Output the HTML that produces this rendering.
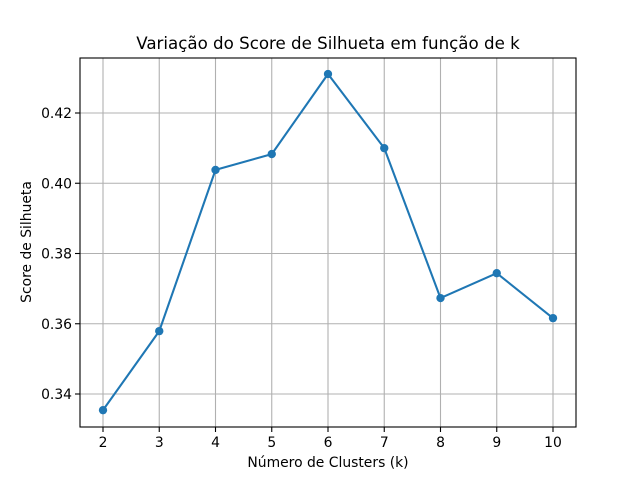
<!DOCTYPE html>
<html><head><meta charset="utf-8"><style>
body{margin:0;background:#fff}
svg{display:block;font-family:"DejaVu Sans","Liberation Sans",sans-serif}
</style></head><body>
<svg id="chart" width="640" height="480" xmlns="http://www.w3.org/2000/svg">
<rect width="640" height="480" fill="#fff"/>
<g id="grid"></g>
<g id="ticks"></g>
<g id="series"></g>
<rect x="80" y="58" width="496" height="369" fill="none" stroke="#000" stroke-width="1.1"/>
<text x="328" y="49" text-anchor="middle" font-size="16.67">Variação do Score de Silhueta em função de k</text>
<text x="328" y="467" text-anchor="middle" font-size="13.9">Número de Clusters (k)</text>
<text transform="translate(31,242) rotate(-90)" text-anchor="middle" font-size="13.9">Score de Silhueta</text>
</svg>
<script>
const categories=[2,3,4,5,6,7,8,9,10];
const scores=[0.3354,0.3579,0.4038,0.4083,0.4311,0.4100,0.3673,0.3744,0.3616];
const yTicks=[0.34,0.36,0.38,0.40,0.42];
const yTickLabels=["0.34","0.36","0.38","0.40","0.42"];
const NS="http://www.w3.org/2000/svg";
function xs(k){return 103+(k-2)*56.25;}
function ys(v){return 394-(v-0.34)/0.02*70.25;}
function mk(tag,attrs,parent){const e=document.createElementNS(NS,tag);for(const a in attrs)e.setAttribute(a,attrs[a]);parent.appendChild(e);return e;}
const grid=document.getElementById('grid'),ticks=document.getElementById('ticks'),series=document.getElementById('series');
categories.forEach(k=>{
 const x=xs(k);
 const g=mk('line',{x1:x,x2:x,y1:58,y2:427,stroke:'#b0b0b0','stroke-width':1.1},grid);
 
 
 const t=mk('line',{x1:x,x2:x,y1:427,y2:432,stroke:'#000','stroke-width':1.1},ticks);
 
 
 const l=mk('text',{x:x,y:447,'text-anchor':'middle','font-size':13.9},ticks);l.textContent=k;
 
 
});
yTicks.forEach((v,i)=>{
 const y=ys(v);
 const g=mk('line',{x1:80,x2:576,y1:y,y2:y,stroke:'#b0b0b0','stroke-width':1.1},grid);
 
 
 const t=mk('line',{x1:75,x2:80,y1:y,y2:y,stroke:'#000','stroke-width':1.1},ticks);
 
 
 const l=mk('text',{x:72,y:y+5,'text-anchor':'end','font-size':13.9},ticks);l.textContent=yTickLabels[i];
 
 
});
const pts=categories.map((k,i)=>xs(k)+','+ys(scores[i])).join(' ');
const line=mk('polyline',{points:pts,fill:'none',stroke:'#1f77b4','stroke-width':2.08,'stroke-linejoin':'round'},series);


categories.forEach((k,i)=>{
 const c=mk('circle',{cx:xs(k),cy:ys(scores[i]),r:4.17,fill:'#1f77b4'},series);
 
 
});
</script>
</body></html>
